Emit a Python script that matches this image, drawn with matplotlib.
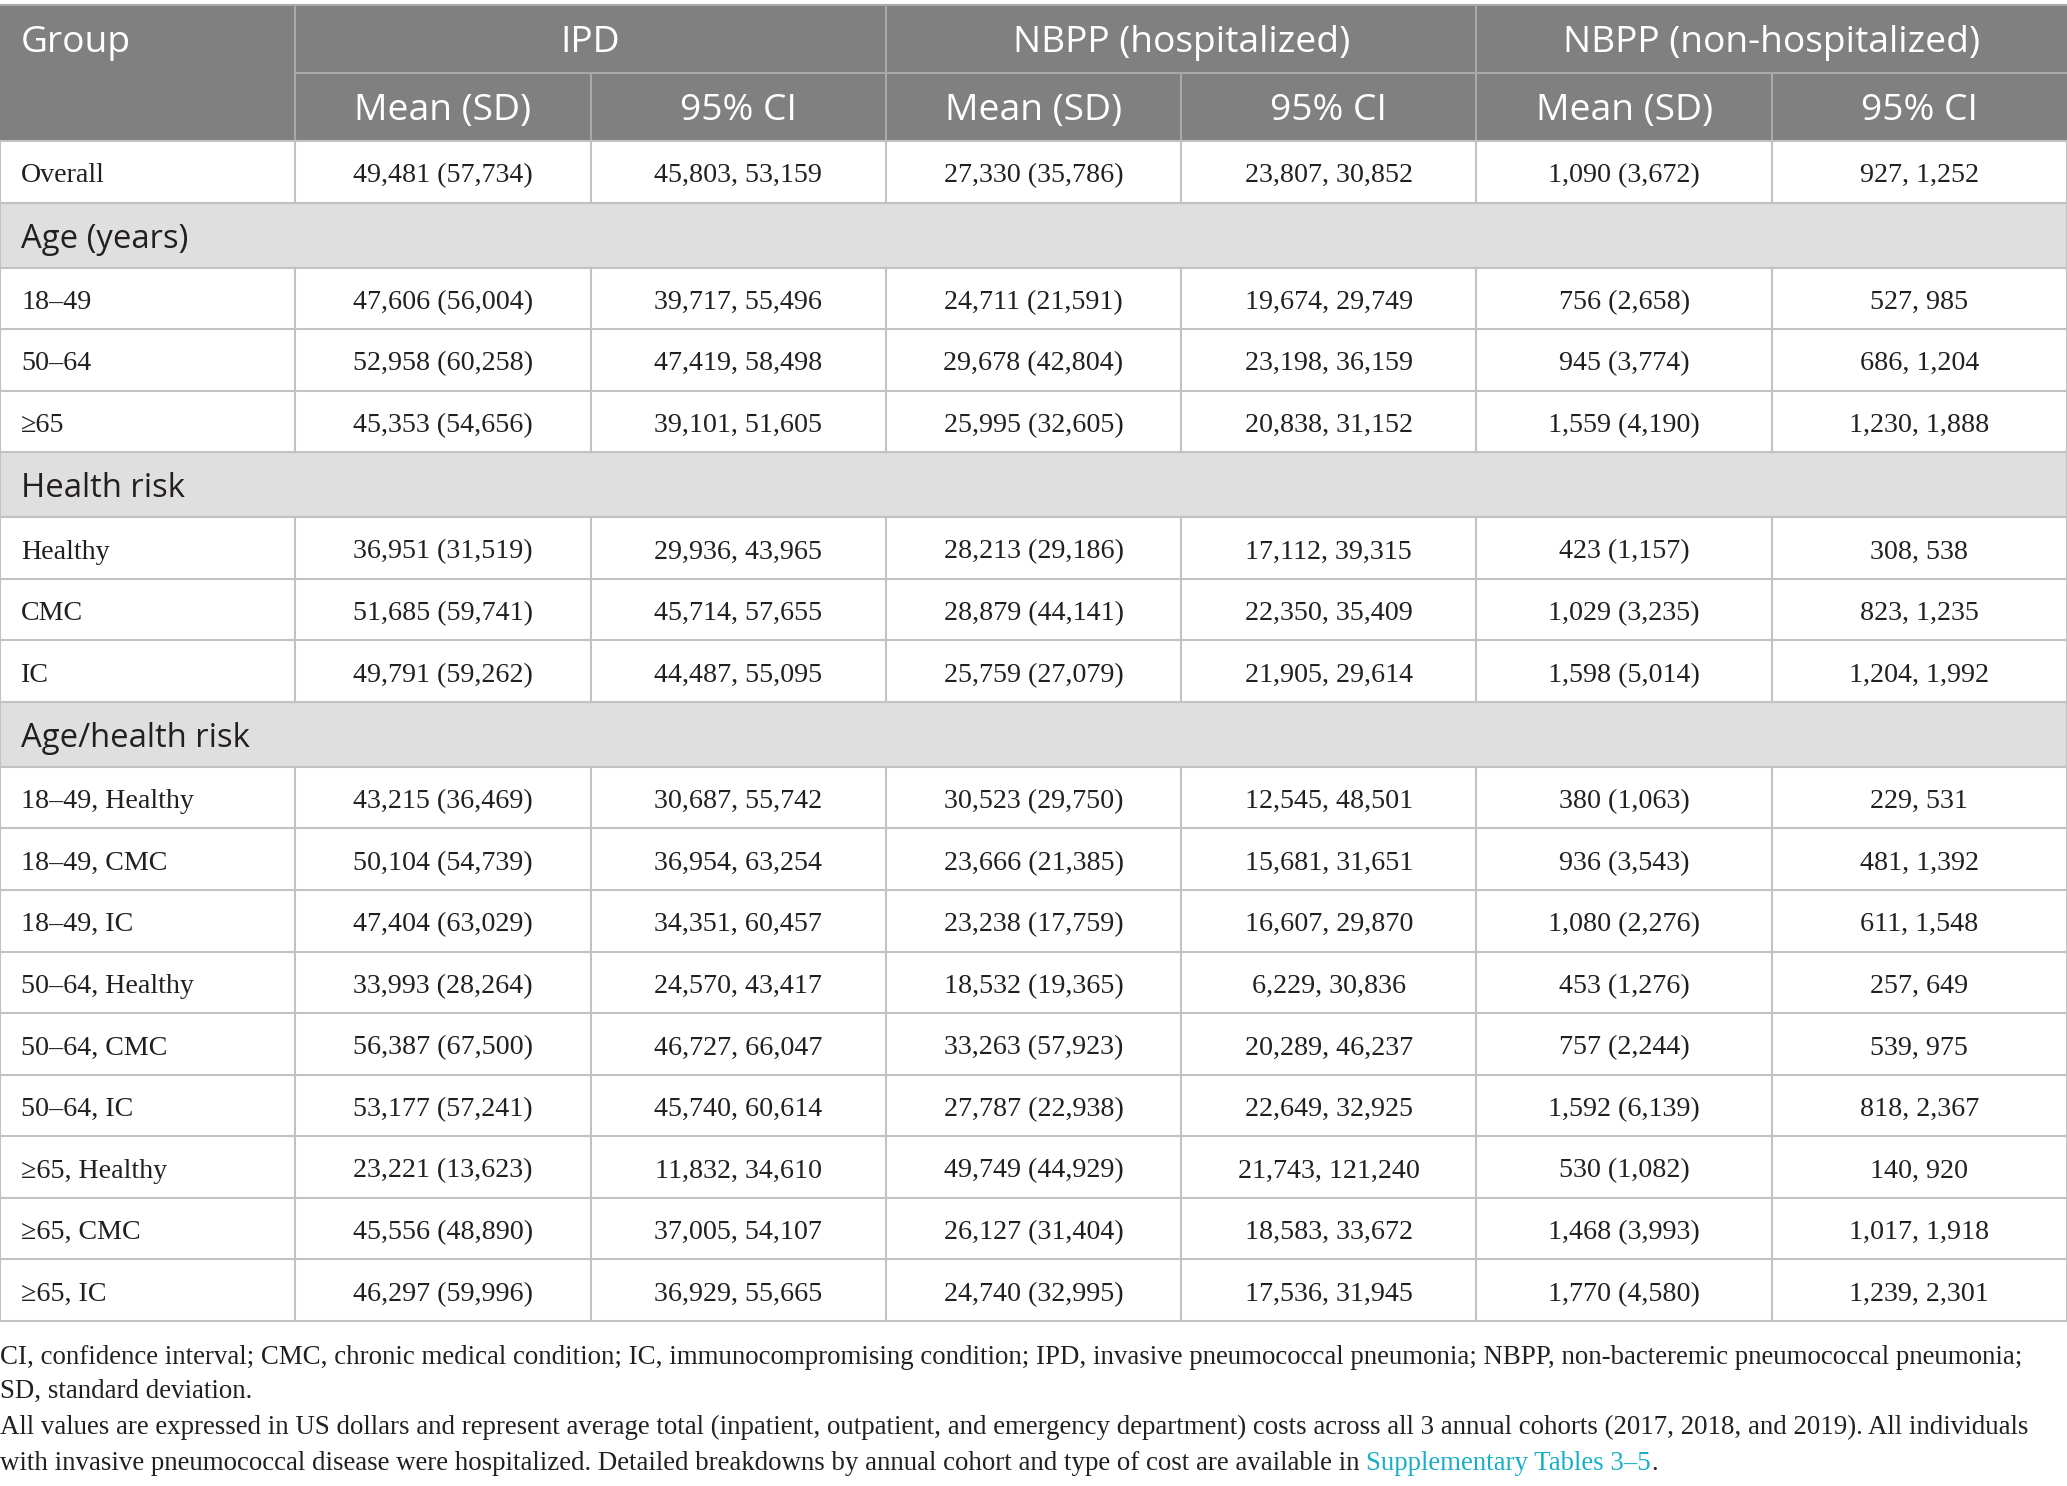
import matplotlib
matplotlib.use('Agg')
import matplotlib.pyplot as plt
from matplotlib.patches import Rectangle

# table data (US dollars)
groups = ['IPD', 'NBPP (hospitalized)', 'NBPP (non-hospitalized)']
sub_heads = ['Mean (SD)', '95% CI']

row_labels = ['Overall', '18–49', '50–64', '≥65', 'Healthy', 'CMC', 'IC',
              '18–49, Healthy', '18–49, CMC', '18–49, IC',
              '50–64, Healthy', '50–64, CMC', '50–64, IC',
              '≥65, Healthy', '≥65, CMC', '≥65, IC']
sections = {1: 'Age (years)', 4: 'Health risk', 7: 'Age/health risk'}

ipd_mean = [49481, 47606, 52958, 45353, 36951, 51685, 49791, 43215, 50104, 47404, 33993, 56387, 53177, 23221, 45556, 46297]
ipd_sd = [57734, 56004, 60258, 54656, 31519, 59741, 59262, 36469, 54739, 63029, 28264, 67500, 57241, 13623, 48890, 59996]
ipd_lo = [45803, 39717, 47419, 39101, 29936, 45714, 44487, 30687, 36954, 34351, 24570, 46727, 45740, 11832, 37005, 36929]
ipd_hi = [53159, 55496, 58498, 51605, 43965, 57655, 55095, 55742, 63254, 60457, 43417, 66047, 60614, 34610, 54107, 55665]

hosp_mean = [27330, 24711, 29678, 25995, 28213, 28879, 25759, 30523, 23666, 23238, 18532, 33263, 27787, 49749, 26127, 24740]
hosp_sd = [35786, 21591, 42804, 32605, 29186, 44141, 27079, 29750, 21385, 17759, 19365, 57923, 22938, 44929, 31404, 32995]
hosp_lo = [23807, 19674, 23198, 20838, 17112, 22350, 21905, 12545, 15681, 16607, 6229, 20289, 22649, 21743, 18583, 17536]
hosp_hi = [30852, 29749, 36159, 31152, 39315, 35409, 29614, 48501, 31651, 29870, 30836, 46237, 32925, 121240, 33672, 31945]

nonhosp_mean = [1090, 756, 945, 1559, 423, 1029, 1598, 380, 936, 1080, 453, 757, 1592, 530, 1468, 1770]
nonhosp_sd = [3672, 2658, 3774, 4190, 1157, 3235, 5014, 1063, 3543, 2276, 1276, 2244, 6139, 1082, 3993, 4580]
nonhosp_lo = [927, 527, 686, 1230, 308, 823, 1204, 229, 481, 611, 257, 539, 818, 140, 1017, 1239]
nonhosp_hi = [1252, 985, 1204, 1888, 538, 1235, 1992, 531, 1392, 1548, 649, 975, 2367, 920, 1918, 2301]

notes = ['CI, confidence interval; CMC, chronic medical condition; IC, immunocompromising condition; IPD, invasive pneumococcal pneumonia; NBPP, non-bacteremic pneumococcal pneumonia;',
         'SD, standard deviation.',
         'All values are expressed in US dollars and represent average total (inpatient, outpatient, and emergency department) costs across all 3 annual cohorts (2017, 2018, and 2019). All individuals',
         'with invasive pneumococcal disease were hospitalized. Detailed breakdowns by annual cohort and type of cost are available in ']
link_text = 'Supplementary Tables 3–5'

W, H = 2067, 1486
head_bg = '#7f807f'
sec_bg = '#e0dfe0'
line_c = '#c2c2c2'
head_line = '#a9a9a9'
txt_c = '#231f20'
serif = 'Liberation Serif'
sans = 'Open Sans'
dy = 4  # text sits a bit below the cell middle

fig = plt.figure(figsize=(W / 100, H / 100), dpi=100)
ax = fig.add_axes([0, 0, 1, 1])
ax.set_xlim(0, W)
ax.set_ylim(H, 0)
ax.axis('off')

cw = W / 7
top = 5
hh = 68
sec_h = 65
row_h = 61.56

cells = []
for i in range(len(row_labels)):
    cells.append([row_labels[i],
                  f'{ipd_mean[i]:,} ({ipd_sd[i]:,})', f'{ipd_lo[i]:,}, {ipd_hi[i]:,}',
                  f'{hosp_mean[i]:,} ({hosp_sd[i]:,})', f'{hosp_lo[i]:,}, {hosp_hi[i]:,}',
                  f'{nonhosp_mean[i]:,} ({nonhosp_sd[i]:,})', f'{nonhosp_lo[i]:,}, {nonhosp_hi[i]:,}'])

# header
ax.add_patch(Rectangle((0, top), W, 2 * hh, color=head_bg, lw=0))
ax.text(21, top + hh / 2 + dy, 'Group', color='white', fontsize=26.8, family=sans, va='center', ha='left')
for g, name in enumerate(groups):
    x0 = cw * (1 + 2 * g)
    ax.text(x0 + cw, top + hh / 2 + dy, name, color='white', fontsize=26.8, family=sans, va='center', ha='center')
    ax.plot([x0, W], [top + hh, top + hh], color=head_line, lw=1.5)
    ax.plot([x0, x0], [top, top + 2 * hh], color=head_line, lw=1.5)
    ax.plot([x0 + cw, x0 + cw], [top + hh, top + 2 * hh], color=head_line, lw=1.5)
    for k, s in enumerate(sub_heads):
        ax.text(x0 + cw * k + cw / 2, top + hh * 1.5 + dy, s, color='white', fontsize=26.8, family=sans,
                va='center', ha='center')
ax.plot([0, W], [top, top], color=head_line, lw=1.5)

# body
y = top + 2 * hh
for i, row in enumerate(cells):
    if i in sections:
        ax.add_patch(Rectangle((0, y), W, sec_h, color=sec_bg, lw=0))
        ax.text(21, y + sec_h / 2 + dy, sections[i], color=txt_c, fontsize=23.7, family=sans, va='center', ha='left')
        ax.plot([0, W], [y, y], color=line_c, lw=1.5)
        ax.plot([0, 0], [y, y + sec_h], color=line_c, lw=1.5)
        ax.plot([W, W], [y, y + sec_h], color=line_c, lw=1.5)
        y += sec_h
    ax.plot([0, W], [y, y], color=line_c, lw=1.5)
    for c in range(8):
        ax.plot([cw * c, cw * c], [y, y + row_h], color=line_c, lw=1.5)
    ax.text(21, y + row_h / 2 + dy, row[0], color=txt_c, fontsize=20.2, family=serif, va='center', ha='left')
    for c in range(1, 7):
        ax.text(cw * c + cw / 2, y + row_h / 2 + dy, row[c], color=txt_c, fontsize=20.2, family=serif,
                va='center', ha='center')
    y += row_h
ax.plot([0, W], [y, y], color=line_c, lw=1.5)

# footnotes
note_y = [1357, 1391, 1427, 1463]
for ny, line in zip(note_y, notes):
    t = ax.text(0, ny, line, color=txt_c, fontsize=19.4, family=serif, va='center', ha='left')
fig.canvas.draw()
bb = t.get_window_extent().transformed(ax.transData.inverted())
t2 = ax.text(bb.x1, note_y[-1], link_text, color='#1aaec6', fontsize=19.4, family=serif, va='center', ha='left')
fig.canvas.draw()
bb2 = t2.get_window_extent().transformed(ax.transData.inverted())
ax.text(bb2.x1, note_y[-1], '.', color=txt_c, fontsize=19.4, family=serif, va='center', ha='left')

fig.savefig('out.png', dpi=100)
